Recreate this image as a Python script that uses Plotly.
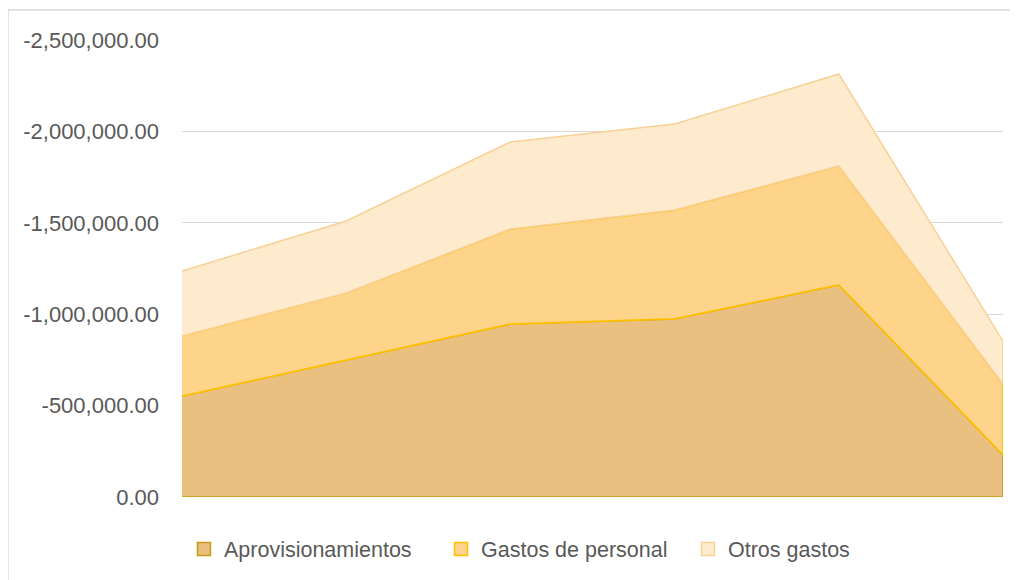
import plotly.graph_objects as go

categories = ["1", "2", "3", "4", "5", "6"]
aprovisionamientos = [-552000, -749000, -946000, -974000, -1160000, -230000]
gastos_personal = [-329000, -367000, -520000, -596000, -651000, -388000]
otros_gastos = [-355000, -394000, -476000, -470000, -503000, -235000]
tick_values = [0, -500000, -1000000, -1500000, -2000000, -2500000]

series = [
    ("Aprovisionamientos", aprovisionamientos, "#E9C080", "#C99A14", 1.6),
    ("Gastos de personal", gastos_personal, "#FDD48A", "#FFC000", 1.8),
    ("Otros gastos", otros_gastos, "#FEEBCE", "#F8D196", 1.5),
]
legend_x = [0.0024, 0.3155, 0.6163]

xs = list(range(len(categories)))
fig = go.Figure()
base = [0] * len(categories)
for name, vals, fill, line, w in series:
    top = [b + v for b, v in zip(base, vals)]
    px = xs + xs[::-1]
    py = top + base[::-1]
    fig.add_trace(go.Scatter(
        x=px, y=py, mode="lines", fill="toself", fillcolor=fill,
        line=dict(color=line, width=w), name=name, hoverinfo="skip",
        showlegend=False,
    ))
    base = top

legend_names = ["legend", "legend2", "legend3"]
for (name, vals, fill, line, w), lg in zip(series, legend_names):
    fig.add_trace(go.Scatter(
        x=[None], y=[None], mode="markers", name=name, legend=lg,
        marker=dict(symbol="square", size=13, color=fill, line=dict(color=line, width=1.5)),
    ))

fig.add_shape(type="rect", xref="paper", yref="paper",
              x0=-0.212, x1=1.03, y0=-0.2, y1=1.0656,
              line=dict(color="#D9D9D9", width=1.5), layer="below")

tick_text = [("-" if v < 0 else "") + f"{abs(v):,.2f}" for v in tick_values]

legend_common = dict(orientation="h", xanchor="left", y=-0.114, yanchor="middle",
                     font=dict(size=21.5, color="#595959"), itemwidth=30,
                     bgcolor="rgba(0,0,0,0)")

fig.update_layout(
    width=1018, height=580,
    margin=dict(l=174, r=23, t=32, b=91),
    paper_bgcolor="white", plot_bgcolor="white",
    font=dict(family="Liberation Sans, Arial", size=21, color="#595959"),
    showlegend=True,
    legend=dict(x=legend_x[0], **legend_common),
    legend2=dict(x=legend_x[1], **legend_common),
    legend3=dict(x=legend_x[2], **legend_common),
    xaxis=dict(range=[0, len(categories) - 1], showticklabels=False, showgrid=False,
               zeroline=False, showline=False, tickvals=xs, ticktext=categories, ticks=""),
    yaxis=dict(range=[0, -2500000], tickvals=tick_values, ticktext=tick_text,
               showgrid=True, gridcolor="#D9D9D9", gridwidth=1.3, zeroline=False,
               showline=False, ticks="", ticklabelstandoff=22,
               tickfont=dict(size=22, color="#595959")),
)

fig.write_html("out.html")
